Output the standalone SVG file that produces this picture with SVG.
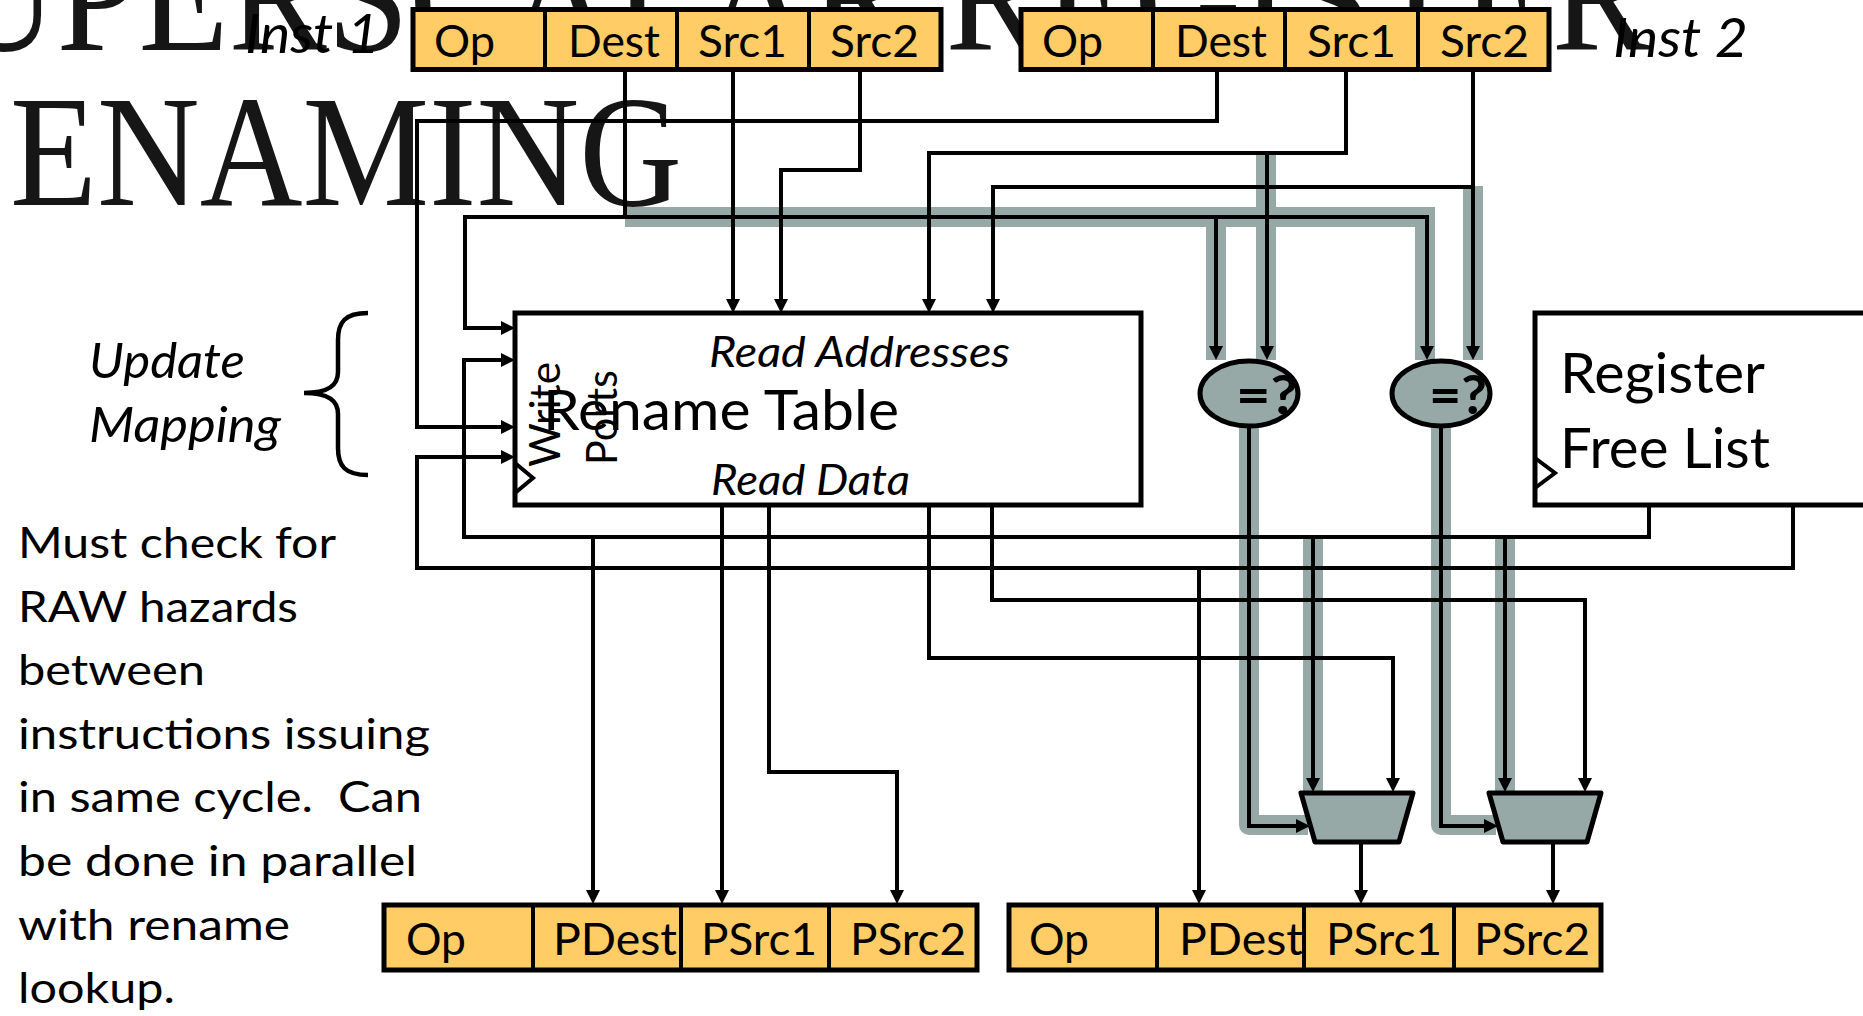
<svg xmlns="http://www.w3.org/2000/svg" width="1863" height="1016" viewBox="0 0 1863 1016">
<defs>
<style>
.t{font-family:Lato,"Open Sans","Liberation Sans",sans-serif;fill:#000}
.i{font-style:italic}
.w{fill:none;stroke:#000;stroke-width:4;stroke-linejoin:miter}
.a{marker-end:url(#arr)}
.g{fill:none;stroke:#97A9A7;stroke-width:20}
.gr{fill:none;stroke:#97A9A7;stroke-width:20;stroke-linejoin:round}
.fld{fill:#FFCC66;stroke:#000;stroke-width:5}
.div{stroke:#000;stroke-width:4}
.blk{fill:#fff;stroke:#000;stroke-width:5}
.gry{fill:#97A9A7;stroke:#000;stroke-width:5;stroke-linejoin:round}
.title{font-family:"Liberation Serif","DejaVu Serif",serif;fill:#161616}
.n{font-size:42px}
</style>
<marker id="arr" viewBox="0 0 14 14" refX="6" refY="7" markerWidth="14" markerHeight="14" markerUnits="userSpaceOnUse" orient="auto">
<path d="M0,0 L14,7 L0,14 z" fill="#000"/>
</marker>
</defs>
<rect width="1863" height="1016" fill="#fff"/>
<g id="title">
<text class="title" x="-50" y="50" font-size="159" textLength="1700" lengthAdjust="spacingAndGlyphs">UPERSCALAR REGISTER</text>
<text class="title" x="10" y="205" font-size="159" textLength="672" lengthAdjust="spacingAndGlyphs">ENAMING</text>
</g>
<g id="connectors">
<g id="highlight">
<path class="g" d="M625,217 H1425 V360"/>
<path class="g" d="M1216,217 V360"/>
<path class="g" d="M1266,155 V360"/>
<path class="g" d="M1473,186 V360"/>
<path class="gr" d="M1249,427 V825 H1308"/>
<path class="gr" d="M1441,427 V825 H1496"/>
<path class="g" d="M1313,537 V793"/>
<path class="g" d="M1505,537 V793"/>
</g>
<path class="w" d="M625,70 V217"/>
<path class="w a" d="M625,217 H1427 V352"/>
<path class="w a" d="M625,217 H465 V328 H507"/>
<path class="w a" d="M1216,217 V352"/>
<path class="w a" d="M733,70 V305"/>
<path class="w a" d="M860,70 V170 H781 V305"/>
<path class="w a" d="M1217,70 V121 H417 V427 H507"/>
<path class="w a" d="M1346,70 V153 H929 V305"/>
<path class="w a" d="M1267,153 V352"/>
<path class="w a" d="M1473,70 V352"/>
<path class="w a" d="M1473,187 H993 V305"/>
<path class="w a" d="M722,505 V896"/>
<path class="w a" d="M769,505 V772 H897 V896"/>
<path class="w a" d="M929,505 V658 H1393 V784"/>
<path class="w a" d="M992,505 V600 H1585 V784"/>
<path class="w a" d="M1649,505 V537 H464 V360 H507"/>
<path class="w a" d="M593,537 V896"/>
<path class="w a" d="M1313,537 V784"/>
<path class="w a" d="M1505,537 V784"/>
<path class="w a" d="M1793,505 V568 H417 V457 H507"/>
<path class="w a" d="M1199,568 V896"/>
<path class="w a" d="M1249,427 V826 H1302"/>
<path class="w a" d="M1441,427 V826 H1490"/>
<path class="w a" d="M1361,842 V896"/>
<path class="w a" d="M1553,842 V896"/>
</g>
<g id="rename-table">
<rect class="blk" x="515" y="313" width="626" height="192"/>
<polyline points="515,463 533,478 515,493" fill="none" stroke="#000" stroke-width="4"/>
<text class="t i" x="709" y="367" font-size="42" textLength="301" lengthAdjust="spacingAndGlyphs">Read Addresses</text>
<text class="t" x="543" y="430" font-size="56" textLength="356" lengthAdjust="spacingAndGlyphs">Rename Table</text>
<text class="t i" x="711" y="495" font-size="42" textLength="199" lengthAdjust="spacingAndGlyphs">Read Data</text>
<text class="t" transform="translate(560,467) rotate(-90)" font-size="43" textLength="105" lengthAdjust="spacingAndGlyphs">Write</text>
<text class="t" transform="translate(617,465) rotate(-90)" font-size="43" textLength="95" lengthAdjust="spacingAndGlyphs">Ports</text>
</g>
<g id="free-list">
<rect class="blk" x="1535" y="313" width="400" height="192"/>
<polyline points="1535,458 1555,473 1535,488" fill="none" stroke="#000" stroke-width="4"/>
<text class="t" x="1560" y="393" font-size="56" textLength="205" lengthAdjust="spacingAndGlyphs">Register</text>
<text class="t" x="1560" y="468" font-size="56" textLength="210" lengthAdjust="spacingAndGlyphs">Free List</text>
</g>
<g id="comp1">
<ellipse class="gry" cx="1249" cy="393.5" rx="49" ry="32.5"/>
<text class="t" x="1236" y="414" font-size="54" font-weight="bold" textLength="62" lengthAdjust="spacingAndGlyphs">=?</text>
</g>
<g id="comp2">
<ellipse class="gry" cx="1441" cy="393.5" rx="49" ry="32.5"/>
<text class="t" x="1429" y="414" font-size="54" font-weight="bold" textLength="58" lengthAdjust="spacingAndGlyphs">=?</text>
</g>
<g id="mux1">
<polygon class="gry" points="1301,793 1413,793 1399,842 1315,842"/>
</g>
<g id="mux2">
<polygon class="gry" points="1489,793 1601,793 1587,842 1503,842"/>
</g>
<g id="inst1">
<rect class="fld" x="413" y="9.5" width="528" height="60"/>
<line class="div" x1="545" y1="10" x2="545" y2="69"/>
<line class="div" x1="677" y1="10" x2="677" y2="69"/>
<line class="div" x1="809" y1="10" x2="809" y2="69"/>
<text class="t" x="434" y="57" font-size="45" textLength="61" lengthAdjust="spacingAndGlyphs">Op</text>
<text class="t" x="568" y="57" font-size="45" textLength="92" lengthAdjust="spacingAndGlyphs">Dest</text>
<text class="t" x="698" y="57" font-size="45" textLength="89" lengthAdjust="spacingAndGlyphs">Src1</text>
<text class="t" x="830" y="57" font-size="45" textLength="89" lengthAdjust="spacingAndGlyphs">Src2</text>
<text class="t i" x="245" y="53" font-size="54" textLength="135" lengthAdjust="spacingAndGlyphs">Inst 1</text>
</g>
<g id="inst2">
<rect class="fld" x="1021" y="9.5" width="528" height="60"/>
<line class="div" x1="1153" y1="10" x2="1153" y2="69"/>
<line class="div" x1="1285" y1="10" x2="1285" y2="69"/>
<line class="div" x1="1418" y1="10" x2="1418" y2="69"/>
<text class="t" x="1042" y="57" font-size="45" textLength="61" lengthAdjust="spacingAndGlyphs">Op</text>
<text class="t" x="1175" y="57" font-size="45" textLength="92" lengthAdjust="spacingAndGlyphs">Dest</text>
<text class="t" x="1307" y="57" font-size="45" textLength="89" lengthAdjust="spacingAndGlyphs">Src1</text>
<text class="t" x="1440" y="57" font-size="45" textLength="89" lengthAdjust="spacingAndGlyphs">Src2</text>
<text class="t i" x="1613" y="57" font-size="54" textLength="135" lengthAdjust="spacingAndGlyphs">Inst 2</text>
</g>
<g id="out1">
<rect class="fld" x="384" y="905" width="593" height="65"/>
<line class="div" x1="533" y1="905" x2="533" y2="970"/>
<line class="div" x1="681" y1="905" x2="681" y2="970"/>
<line class="div" x1="829" y1="905" x2="829" y2="970"/>
<text class="t" x="406" y="955" font-size="45" textLength="60" lengthAdjust="spacingAndGlyphs">Op</text>
<text class="t" x="553" y="955" font-size="45" textLength="124" lengthAdjust="spacingAndGlyphs">PDest</text>
<text class="t" x="701" y="955" font-size="45" textLength="116" lengthAdjust="spacingAndGlyphs">PSrc1</text>
<text class="t" x="850" y="955" font-size="45" textLength="116" lengthAdjust="spacingAndGlyphs">PSrc2</text>
</g>
<g id="out2">
<rect class="fld" x="1009" y="905" width="592" height="65"/>
<line class="div" x1="1157" y1="905" x2="1157" y2="970"/>
<line class="div" x1="1304" y1="905" x2="1304" y2="970"/>
<line class="div" x1="1454" y1="905" x2="1454" y2="970"/>
<text class="t" x="1029" y="955" font-size="45" textLength="60" lengthAdjust="spacingAndGlyphs">Op</text>
<text class="t" x="1179" y="955" font-size="45" textLength="124" lengthAdjust="spacingAndGlyphs">PDest</text>
<text class="t" x="1326" y="955" font-size="45" textLength="116" lengthAdjust="spacingAndGlyphs">PSrc1</text>
<text class="t" x="1474" y="955" font-size="45" textLength="116" lengthAdjust="spacingAndGlyphs">PSrc2</text>
</g>
<g id="update-mapping">
<text class="t i" x="89" y="378" font-size="49" textLength="156" lengthAdjust="spacingAndGlyphs">Update</text>
<text class="t i" x="89" y="442" font-size="49" textLength="192" lengthAdjust="spacingAndGlyphs">Mapping</text>
<path d="M368,313 C345,313 338,322 338,340 L338,372 C338,386 328,393 304,393 C328,393 338,400 338,414 L338,448 C338,466 345,475 368,475" fill="none" stroke="#000" stroke-width="4.5"/>
</g>
<g id="note">
<text class="t n" x="18" y="558" textLength="318" lengthAdjust="spacingAndGlyphs">Must check for</text>
<text class="t n" x="18" y="621.6" textLength="280" lengthAdjust="spacingAndGlyphs">RAW hazards</text>
<text class="t n" x="18" y="685.2" textLength="187" lengthAdjust="spacingAndGlyphs">between</text>
<text class="t n" x="18" y="748.8" textLength="412" lengthAdjust="spacingAndGlyphs">instructions issuing</text>
<text class="t n" x="18" y="812.4" textLength="404" lengthAdjust="spacingAndGlyphs" xml:space="preserve">in same cycle.  Can</text>
<text class="t n" x="18" y="876" textLength="399" lengthAdjust="spacingAndGlyphs">be done in parallel</text>
<text class="t n" x="18" y="939.6" textLength="272" lengthAdjust="spacingAndGlyphs">with rename</text>
<text class="t n" x="18" y="1003.2" textLength="157" lengthAdjust="spacingAndGlyphs">lookup.</text>
</g>
</svg>
